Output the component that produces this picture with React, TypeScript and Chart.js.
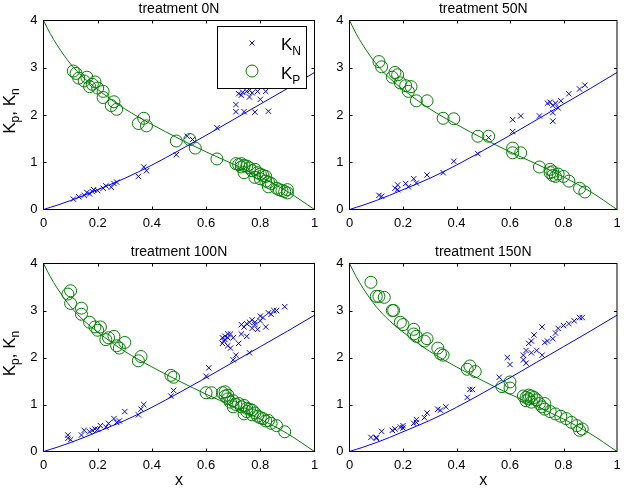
import React, { useEffect, useRef } from "react";
import { Chart, registerables } from "chart.js";

Chart.register(...registerables);

const FONT = '"Liberation Sans", Arial, Helvetica, sans-serif';
const BLUE = "rgb(0,0,255)";
const GREEN = "rgb(0,128,0)";

const titles = ["treatment 0N", "treatment 50N", "treatment 100N", "treatment 150N"];

// fitted curves
const fitX = [0, 0.025, 0.05, 0.1, 0.15, 0.2, 0.3, 0.4, 0.5, 0.6, 0.7, 0.8, 0.9, 1];
const fitKp = [4.0, 3.72, 3.48, 3.08, 2.78, 2.54, 2.13, 1.8, 1.5, 1.22, 0.96, 0.69, 0.38, 0.0];
const fitKn = [0, 0.045, 0.09, 0.19, 0.3, 0.42, 0.66, 0.94, 1.25, 1.57, 1.9, 2.23, 2.56, 2.9];

// treatment 0N
const kn0N = [
  [0.11, 0.22], [0.13, 0.27], [0.15, 0.3], [0.16, 0.36], [0.17, 0.33], [0.18, 0.38], [0.185, 0.42],
  [0.2, 0.4], [0.22, 0.45], [0.23, 0.5], [0.25, 0.47], [0.26, 0.55], [0.27, 0.58], [0.35, 0.7],
  [0.37, 0.9], [0.38, 0.82], [0.49, 1.16], [0.53, 1.55], [0.55, 1.48], [0.64, 1.73], [0.71, 2.07],
  [0.71, 2.22], [0.72, 2.45], [0.73, 2.42], [0.735, 2.48], [0.74, 2.07], [0.75, 2.5], [0.76, 2.38],
  [0.77, 2.47], [0.78, 2.06], [0.79, 2.5], [0.8, 2.33], [0.82, 2.5], [0.83, 2.08], [0.76, 2.52],
];
const kp0N = [
  [0.11, 2.93], [0.12, 2.88], [0.13, 2.78], [0.15, 2.72], [0.16, 2.8], [0.17, 2.6], [0.18, 2.65],
  [0.19, 2.7], [0.2, 2.57], [0.22, 2.5], [0.22, 2.37], [0.25, 2.2], [0.26, 2.28], [0.27, 2.12],
  [0.35, 1.82], [0.37, 1.93], [0.38, 1.77], [0.49, 1.45], [0.54, 1.48], [0.56, 1.3], [0.64, 1.07],
  [0.71, 0.97], [0.72, 0.95], [0.73, 0.97], [0.73, 0.9], [0.74, 0.93], [0.74, 0.78], [0.75, 0.92],
  [0.76, 0.88], [0.77, 0.82], [0.78, 0.85], [0.78, 0.68], [0.79, 0.78], [0.8, 0.75], [0.8, 0.65],
  [0.81, 0.72], [0.82, 0.7], [0.82, 0.6], [0.83, 0.58], [0.83, 0.48], [0.84, 0.55], [0.86, 0.45],
  [0.87, 0.42], [0.88, 0.4], [0.89, 0.38], [0.9, 0.35], [0.9, 0.42],
];

// treatment 50N
const kn50N = [
  [0.11, 0.3], [0.12, 0.28], [0.17, 0.45], [0.18, 0.52], [0.18, 0.42], [0.21, 0.55], [0.22, 0.48],
  [0.24, 0.65], [0.25, 0.56], [0.29, 0.73], [0.35, 0.78], [0.39, 1.02], [0.48, 1.18], [0.52, 1.52],
  [0.61, 1.9], [0.61, 1.65], [0.64, 1.98], [0.71, 1.98], [0.74, 2.25], [0.75, 2.27], [0.76, 2.2],
  [0.76, 2.05], [0.76, 1.87], [0.77, 2.25], [0.78, 2.15], [0.79, 2.3], [0.82, 2.45], [0.86, 2.55],
  [0.88, 2.63],
];
const kp50N = [
  [0.11, 3.13], [0.12, 3.02], [0.16, 2.8], [0.17, 2.9], [0.18, 2.85], [0.19, 2.68], [0.21, 2.62],
  [0.22, 2.5], [0.23, 2.6], [0.25, 2.3], [0.29, 2.3], [0.35, 1.93], [0.39, 1.92], [0.48, 1.55],
  [0.52, 1.55], [0.61, 1.3], [0.61, 1.2], [0.64, 1.2], [0.71, 0.9], [0.75, 0.85], [0.75, 0.78],
  [0.76, 0.72], [0.76, 0.8], [0.77, 0.7], [0.78, 0.75], [0.8, 0.7], [0.82, 0.6], [0.86, 0.45],
  [0.88, 0.37],
];

// treatment 100N
const kn100N = [
  [0.09, 0.28], [0.09, 0.35], [0.1, 0.25], [0.14, 0.35], [0.15, 0.45], [0.17, 0.42], [0.18, 0.45],
  [0.19, 0.48], [0.2, 0.47], [0.21, 0.55], [0.23, 0.52], [0.24, 0.6], [0.26, 0.7], [0.27, 0.62],
  [0.28, 0.65], [0.3, 0.85], [0.35, 0.78], [0.36, 0.9], [0.37, 1.0], [0.47, 1.18], [0.48, 1.3],
  [0.6, 1.6], [0.61, 1.78], [0.66, 2.3], [0.66, 2.42], [0.665, 2.35], [0.67, 2.45], [0.67, 2.38],
  [0.68, 2.5], [0.68, 2.42], [0.68, 2.25], [0.69, 2.2], [0.69, 2.5], [0.7, 2.42], [0.7, 1.95],
  [0.71, 2.05], [0.72, 2.3], [0.73, 2.5], [0.73, 2.7], [0.74, 2.65], [0.75, 2.72], [0.75, 2.45],
  [0.76, 2.75], [0.76, 2.1], [0.77, 2.8], [0.77, 2.62], [0.78, 2.75], [0.78, 2.7], [0.79, 2.6],
  [0.8, 2.78], [0.8, 2.88], [0.81, 2.85], [0.82, 2.65], [0.83, 2.95], [0.84, 2.92], [0.85, 3.0],
  [0.86, 3.0], [0.89, 3.08],
];
const kp100N = [
  [0.09, 3.35], [0.1, 3.42], [0.1, 3.15], [0.14, 3.05], [0.14, 2.92], [0.17, 2.75], [0.19, 2.65],
  [0.2, 2.58], [0.21, 2.65], [0.23, 2.38], [0.24, 2.42], [0.26, 2.45], [0.27, 2.25], [0.28, 2.2],
  [0.3, 2.32], [0.35, 1.93], [0.36, 2.02], [0.47, 1.62], [0.48, 1.58], [0.6, 1.25], [0.62, 1.25],
  [0.66, 1.25], [0.67, 1.27], [0.67, 1.18], [0.68, 1.2], [0.68, 1.12], [0.69, 1.05], [0.7, 1.08],
  [0.7, 0.95], [0.71, 1.0], [0.72, 1.02], [0.73, 0.95], [0.74, 0.98], [0.74, 0.8], [0.75, 0.92],
  [0.75, 0.85], [0.76, 0.9], [0.77, 0.88], [0.77, 0.78], [0.78, 0.82], [0.79, 0.75], [0.8, 0.72],
  [0.81, 0.7], [0.82, 0.65], [0.83, 0.66], [0.84, 0.6], [0.86, 0.55], [0.89, 0.42],
];

// treatment 150N
const kn150N = [
  [0.08, 0.3], [0.1, 0.3], [0.1, 0.28], [0.12, 0.43], [0.16, 0.45], [0.17, 0.48], [0.19, 0.52],
  [0.2, 0.55], [0.2, 0.5], [0.24, 0.6], [0.25, 0.68], [0.25, 0.62], [0.28, 0.72], [0.29, 0.82],
  [0.33, 0.9], [0.34, 0.88], [0.36, 0.95], [0.44, 1.15], [0.45, 1.32], [0.46, 1.32], [0.56, 1.58],
  [0.59, 2.0], [0.6, 1.85], [0.65, 2.05], [0.65, 1.95], [0.66, 2.15], [0.66, 1.88], [0.67, 2.3],
  [0.68, 2.35], [0.68, 2.1], [0.69, 2.48], [0.7, 2.15], [0.72, 2.65], [0.72, 2.05], [0.73, 2.32],
  [0.74, 2.35], [0.76, 2.4], [0.77, 2.52], [0.78, 2.62], [0.8, 2.68], [0.82, 2.72], [0.84, 2.78],
  [0.86, 2.85], [0.87, 2.85],
];
const kp150N = [
  [0.08, 3.6], [0.1, 3.3], [0.11, 3.3], [0.13, 3.28], [0.16, 3.0], [0.165, 3.0], [0.19, 2.75],
  [0.2, 2.7], [0.24, 2.6], [0.24, 2.5], [0.25, 2.45], [0.28, 2.35], [0.29, 2.4], [0.33, 2.2],
  [0.34, 2.08], [0.35, 2.05], [0.44, 1.75], [0.45, 1.82], [0.47, 1.7], [0.57, 1.38], [0.6, 1.48],
  [0.6, 1.35], [0.65, 1.18], [0.66, 1.15], [0.66, 1.08], [0.67, 1.2], [0.67, 1.12], [0.68, 1.18],
  [0.68, 1.05], [0.69, 1.15], [0.7, 1.1], [0.71, 1.02], [0.72, 0.95], [0.73, 1.02], [0.73, 0.9],
  [0.75, 0.85], [0.77, 0.8], [0.79, 0.75], [0.81, 0.7], [0.83, 0.62], [0.85, 0.55], [0.86, 0.45],
  [0.87, 0.48],
];

const knSets = [kn0N, kn50N, kn100N, kn150N];
const kpSets = [kp0N, kp50N, kp100N, kp150N];

const xTickStep = 0.2;
const yTickStep = 1;

// plot-area boxes (left, top, right, bottom) in page pixels
const boxes = [
  { l: 43.5, t: 20.5, r: 314.5, b: 209.5 },
  { l: 349.5, t: 20.5, r: 622.5, b: 209.5 },
  { l: 43.5, t: 263.5, r: 314.5, b: 451.5 },
  { l: 349.5, t: 263.5, r: 622.5, b: 451.5 },
];

const PW = 624;
const PH = 488;
const YW = 40;
const XH = 30;

function drawSub(ctx: CanvasRenderingContext2D, parts: [string, string][], x: number, y: number, big: number, small: number, drop: number) {
  let cx = x;
  for (const [m, s] of parts) {
    ctx.font = `${big}px ${FONT}`;
    ctx.fillText(m, cx, y);
    cx += ctx.measureText(m).width;
    ctx.font = `${small}px ${FONT}`;
    ctx.fillText(s, cx, y + drop);
    cx += ctx.measureText(s).width;
  }
  return cx - x;
}

function measureSub(ctx: CanvasRenderingContext2D, parts: [string, string][], big: number, small: number) {
  let w = 0;
  for (const [m, s] of parts) {
    ctx.font = `${big}px ${FONT}`;
    w += ctx.measureText(m).width;
    ctx.font = `${small}px ${FONT}`;
    w += ctx.measureText(s).width;
  }
  return w;
}

function makeDecor(idx: number) {
  return {
    id: "decor" + idx,
    afterDatasetsDraw(chart: any) {
      const { ctx, chartArea: a, scales } = chart;
      ctx.save();
      ctx.strokeStyle = "#000";
      ctx.lineWidth = 1;
      ctx.strokeRect(a.left, a.top, a.right - a.left, a.bottom - a.top);
      const tl = 3;
      ctx.beginPath();
      scales.x.ticks.forEach((t: any) => {
        if (t.value <= 0 || t.value >= 1) return;
        const px = Math.round(scales.x.getPixelForValue(t.value)) + 0.5;
        ctx.moveTo(px, a.bottom);
        ctx.lineTo(px, a.bottom - tl);
        ctx.moveTo(px, a.top);
        ctx.lineTo(px, a.top + tl);
      });
      scales.y.ticks.forEach((t: any) => {
        if (t.value <= 0 || t.value >= 4) return;
        const py = Math.round(scales.y.getPixelForValue(t.value)) + 0.5;
        ctx.moveTo(a.left, py);
        ctx.lineTo(a.left + tl, py);
        ctx.moveTo(a.right, py);
        ctx.lineTo(a.right - tl, py);
      });
      ctx.stroke();

      ctx.fillStyle = "#000";
      // title
      ctx.font = `14px ${FONT}`;
      ctx.textAlign = "center";
      ctx.textBaseline = "alphabetic";
      ctx.fillText(titles[idx], (a.left + a.right) / 2, a.top - 8);

      ctx.textAlign = "left";
      // y label on left panels
      if (idx % 2 === 0) {
        const parts: [string, string][] = [["K", "p"], [", K", "n"]];
        const w = measureSub(ctx, parts, 17, 12);
        ctx.save();
        ctx.translate(15, (a.top + a.bottom) / 2 - 4);
        ctx.rotate(-Math.PI / 2);
        drawSub(ctx, parts, -w / 2, 0, 17, 12, 4);
        ctx.restore();
      }
      // x label on bottom panels
      if (idx >= 2) {
        ctx.font = `16px ${FONT}`;
        ctx.textAlign = "center";
        ctx.fillText("x", (a.left + a.right) / 2, 485);
        ctx.textAlign = "left";
      }
      // legend on first panel
      if (idx === 0) {
        ctx.fillStyle = "#fff";
        ctx.fillRect(217.5, 26.5, 89, 62);
        ctx.strokeRect(217.5, 26.5, 89, 62);
        ctx.strokeStyle = BLUE;
        ctx.beginPath();
        const cx = 252, cy = 43, d = 2.5;
        ctx.moveTo(cx - d, cy - d);
        ctx.lineTo(cx + d, cy + d);
        ctx.moveTo(cx - d, cy + d);
        ctx.lineTo(cx + d, cy - d);
        ctx.stroke();
        ctx.strokeStyle = GREEN;
        ctx.beginPath();
        ctx.arc(252, 71, 6, 0, Math.PI * 2);
        ctx.stroke();
        ctx.fillStyle = "#000";
        drawSub(ctx, [["K", "N"]], 281, 49.5, 17, 12, 5);
        drawSub(ctx, [["K", "P"]], 281, 78.5, 17, 12, 5);
      }
      ctx.restore();
    },
  };
}

function Panel({ idx }: { idx: number }) {
  const ref = useRef<HTMLCanvasElement>(null);
  useEffect(() => {
    const b = boxes[idx];
    const toPts = (arr: number[][]) => arr.map(([x, y]) => ({ x, y }));
    const fmt = (v: any) => String(Number(Number(v).toFixed(1)));
    const chart = new Chart(ref.current!, {
      type: "scatter",
      data: {
        datasets: [
          {
            type: "line",
            data: fitX.map((x, i) => ({ x, y: fitKn[i] })),
            borderColor: BLUE,
            borderWidth: 1,
            pointRadius: 0,
            fill: false,
            cubicInterpolationMode: "monotone",
          } as any,
          {
            type: "line",
            data: fitX.map((x, i) => ({ x, y: fitKp[i] })),
            borderColor: GREEN,
            borderWidth: 1,
            pointRadius: 0,
            fill: false,
            cubicInterpolationMode: "monotone",
          } as any,
          {
            data: toPts(knSets[idx]),
            pointStyle: "crossRot",
            pointRadius: 3.8,
            borderColor: BLUE,
            backgroundColor: BLUE,
            borderWidth: 1,
          } as any,
          {
            data: toPts(kpSets[idx]),
            pointStyle: "circle",
            pointRadius: 6,
            borderColor: GREEN,
            backgroundColor: "rgba(0,0,0,0)",
            borderWidth: 1,
          } as any,
        ],
      },
      options: {
        responsive: false,
        animation: false,
        devicePixelRatio: 1,
        events: [],
        layout: {
          padding: { left: b.l - YW, top: b.t, right: PW - b.r, bottom: PH - b.b - XH },
        },
        plugins: { legend: { display: false }, tooltip: { enabled: false }, title: { display: false } },
        scales: {
          x: {
            type: "linear",
            min: 0,
            max: 1,
            grid: { display: false, drawTicks: false },
            border: { display: false },
            ticks: {
              stepSize: xTickStep,
              padding: 6,
              color: "#000",
              font: { family: FONT, size: 13 },
              maxRotation: 0,
              autoSkip: false,
              callback: fmt,
            },
            afterFit: (s: any) => {
              s.height = XH;
              s.paddingLeft = 0;
              s.paddingRight = 0;
            },
          },
          y: {
            type: "linear",
            min: 0,
            max: 4,
            grid: { display: false, drawTicks: false },
            border: { display: false },
            ticks: {
              stepSize: yTickStep,
              padding: 6,
              color: "#000",
              font: { family: FONT, size: 13 },
              callback: fmt,
            },
            afterFit: (s: any) => {
              s.width = YW;
              s.paddingTop = 0;
              s.paddingBottom = 0;
            },
          },
        },
      } as any,
      plugins: [makeDecor(idx)],
    });
    return () => chart.destroy();
  }, [idx]);
  return (
    <canvas
      ref={ref}
      width={PW}
      height={PH}
      style={{ position: "absolute", left: 0, top: 0, width: PW, height: PH, display: "block" }}
    />
  );
}

export default function App() {
  return (
    <div style={{ position: "absolute", left: 0, top: 0, width: PW, height: PH, background: "#fff", overflow: "hidden" }}>
      {[0, 1, 2, 3].map((i) => (
        <Panel key={i} idx={i} />
      ))}
    </div>
  );
}
